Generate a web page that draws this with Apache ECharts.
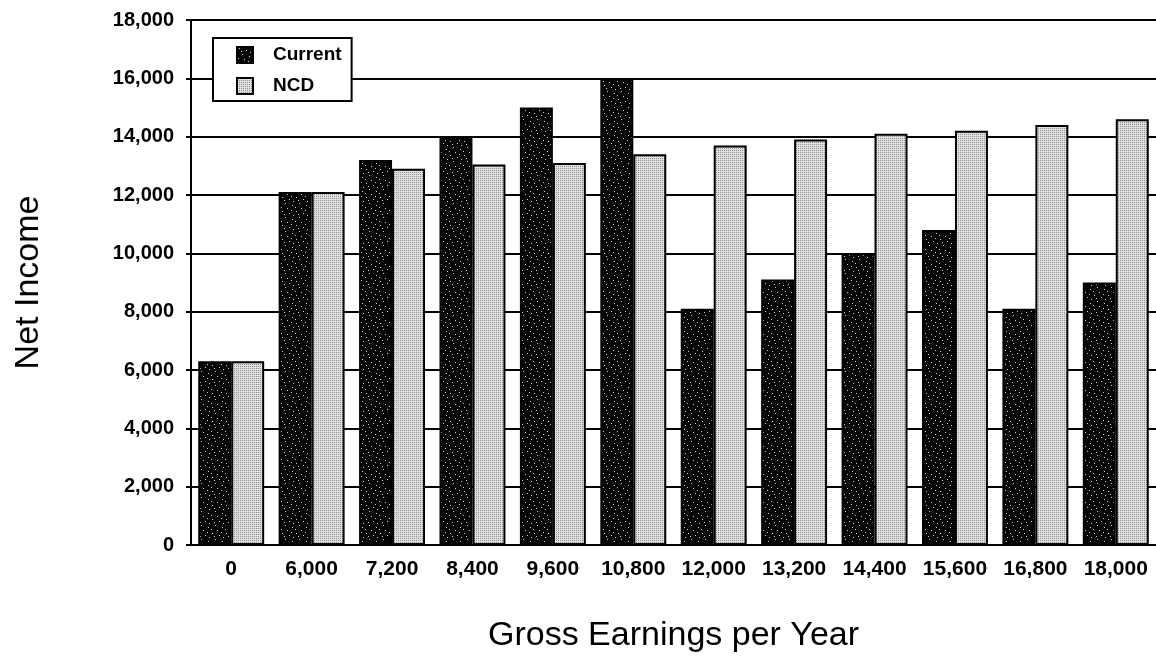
<!DOCTYPE html>
<html>
<head>
<meta charset="utf-8">
<script src="https://cdn.jsdelivr.net/npm/echarts@6/dist/echarts.min.js"></script>
<style>
html,body{margin:0;padding:0;background:#fff;}
#c{width:1156px;height:660px;}
</style>
</head>
<body>
<div id="c"></div>
<script>
const categories = ['0','6,000','7,200','8,400','9,600','10,800','12,000','13,200','14,400','15,600','16,800','18,000'];
const currentValues = [6300,12100,13200,14000,15000,16000,8100,9100,10000,10800,8100,9000];
const ncdValues = [6300,12100,12900,13050,13100,13400,13700,13900,14100,14200,14400,14600];
const seriesNames = ['Current','NCD'];
const xAxisTitle = 'Gross Earnings per Year';
const yAxisTitle = 'Net Income';

function makeStipple() {
  const c = document.createElement('canvas');
  c.width = 2; c.height = 2;
  const g = c.getContext('2d');
  g.fillStyle = '#e0e0e0'; g.fillRect(0,0,2,2);
  g.fillStyle = '#8e8e8e';
  g.fillRect(0,0,1,1);
  return c;
}
function makeSpeckle() {
  const c = document.createElement('canvas');
  c.width = 14; c.height = 14;
  const g = c.getContext('2d');
  g.fillStyle = '#050505'; g.fillRect(0,0,14,14);
  g.fillStyle = '#cfcfcf';
  const pts = [[2,1],[9,3],[5,7],[12,9],[1,11],[7,12],[11,0],[4,4],[13,5]];
  pts.forEach(p => g.fillRect(p[0], p[1], 1, 1));
  return c;
}

const FONT = 'Liberation Sans';
const chart = echarts.init(document.getElementById('c'), null, {renderer: 'canvas'});
chart.setOption({
  animation: false,
  backgroundColor: '#fff',
  grid: {left: 191, right: -2, top: 20, bottom: 115, containLabel: false},
  legend: {
    orient: 'vertical',
    left: 213, top: 38,
    padding: [7, 10, 5, 23],
    itemGap: 11,
    itemWidth: 16, itemHeight: 16,
    icon: 'rect',
    borderColor: '#000', borderWidth: 2,
    backgroundColor: '#fff',
    textStyle: {fontFamily: FONT, fontWeight: 'bold', fontSize: 19, color: '#000', lineHeight: 20, padding: [0,0,0,15]},
    data: seriesNames
  },
  xAxis: {
    type: 'category',
    data: categories,
    name: xAxisTitle,
    nameLocation: 'middle',
    nameGap: 74,
    nameTextStyle: {fontFamily: FONT, fontSize: 34, color: '#000'},
    axisLine: {show: true, lineStyle: {color: '#000', width: 2}},
    axisTick: {show: false},
    axisLabel: {fontFamily: FONT, fontWeight: 'bold', fontSize: 21, color: '#000', margin: 14, interval: 0},
    splitLine: {show: false}
  },
  yAxis: {
    type: 'value',
    min: 0, max: 18000, interval: 2000,
    name: yAxisTitle,
    nameLocation: 'middle',
    nameGap: 145,
    nameRotate: 90,
    nameTextStyle: {fontFamily: FONT, fontSize: 34, color: '#000'},
    axisLine: {show: true, lineStyle: {color: '#000', width: 2}},
    axisTick: {show: true, length: 5, lineStyle: {color: '#000', width: 2}},
    axisLabel: {fontFamily: FONT, fontWeight: 'bold', fontSize: 20, color: '#000', margin: 17,
      formatter: v => v.toLocaleString('en-US')},
    splitLine: {show: true, lineStyle: {color: '#000', width: 2}}
  },
  series: [
    {
      name: seriesNames[0], type: 'bar', data: currentValues,
      barGap: '0%', barCategoryGap: '18%',
      itemStyle: {color: {image: makeSpeckle(), repeat: 'repeat'}, borderColor: '#000', borderWidth: 2}
    },
    {
      name: seriesNames[1], type: 'bar', data: ncdValues,
      barGap: '0%', barCategoryGap: '18%',
      itemStyle: {color: {image: makeStipple(), repeat: 'repeat'}, borderColor: '#000', borderWidth: 2}
    }
  ]
});
</script>
</body>
</html>
